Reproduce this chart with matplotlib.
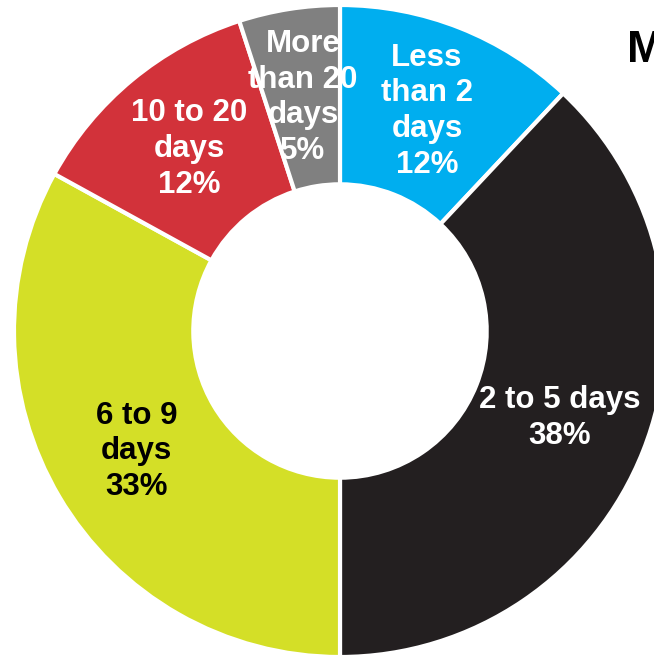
import matplotlib
matplotlib.use("Agg")
import matplotlib.pyplot as plt

categories = ["Less\nthan 2\ndays", "2 to 5 days", "6 to 9\ndays", "10 to 20\ndays", "More\nthan 20\ndays"]
shares = [12, 38, 33, 12, 5]
colors = ["#00AEEF", "#231F20", "#D4DF27", "#D2323A", "#808080"]
text_colors = ["white", "white", "black", "white", "white"]

plt.rcParams["font.family"] = ["Liberation Sans", "DejaVu Sans"]

W, H = 654, 657
fig = plt.figure(figsize=(W / 100, H / 100), dpi=100)
cx, cy, R = 340, 331, 326
ax = fig.add_axes([(cx - R) / W, (H - cy - R) / H, 2 * R / W, 2 * R / H])
ax.set_aspect("equal")
ax.axis("off")

labels = [f"{c}\n{v}%" for c, v in zip(categories, shares)]
wedges, texts = ax.pie(
    shares, colors=colors, startangle=90, counterclock=False, radius=1.0,
    wedgeprops=dict(width=0.55, edgecolor="white", linewidth=3),
    labels=labels, labeldistance=0.725,
    textprops=dict(fontsize=22.5, fontweight="bold", linespacing=1.25),
)
for t, c in zip(texts, text_colors):
    t.set_color(c)
    t.set_horizontalalignment("center")
    t.set_multialignment("center")
    t.set_verticalalignment("center")
ax.set_xlim(-1, 1)
ax.set_ylim(-1, 1)

# Title, running off the right edge of the canvas
fig.text(627 / W, 1 - 50 / H, "M", fontsize=32, fontweight="bold",
         color="black", ha="left", va="center")

fig.savefig("out.png", dpi=100)
